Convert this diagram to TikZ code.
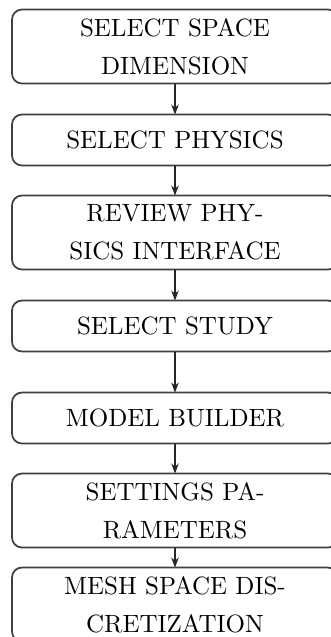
\documentclass[tikz,border=0pt]{standalone}
\usepackage{tikz}
\usetikzlibrary{positioning,arrows.meta}

\tikzset{
  block/.style={draw=black!75, line width=0.7pt, rounded corners=4pt,
    minimum width=130.4pt, minimum height=20.4pt, inner xsep=3.8pt, inner ysep=1pt,
    outer sep=0pt, align=center, font=\fontsize{10}{15.3}\selectfont},
  tallblock/.style={block, minimum height=29.6pt},
  flow/.style={-{Stealth[length=4pt,width=3pt]}, line width=0.45pt, black!85}
}

\begin{document}
\begin{tikzpicture}
			%%%%% START %%%%%
			
			\useasboundingbox (-70pt, 18.6pt) rectangle (62pt, -236.2pt);
			
			\node[tallblock] (space) at (0, 0) {SELECT SPACE\\DIMENSION};
			\node[block, below=12.4pt of space] (physics) {SELECT PHYSICS};
			\node[tallblock, below=12pt of physics] (review) {REVIEW PHY-\\SICS INTERFACE};
			\node[block, below=12.4pt of review] (study) {SELECT STUDY};
			\node[block, below=16.4pt of study] (builder) {MODEL BUILDER};
			\node[tallblock, below=12pt of builder] (settings) {SETTINGS PA-\\RAMETERS};
			\node[tallblock, below=8pt of settings] (mesh) {MESH SPACE DIS-\\CRETIZATION};
			
			\draw[flow] (space) -- (physics);
			\draw[flow] (physics) -- (review);
			\draw[flow] (review) -- (study);
			\draw[flow] (study) -- (builder);
			\draw[flow] (builder) -- (settings);
			\draw[flow] (settings) -- (mesh);
			
			%%%%% END %%%%%
\end{tikzpicture}
\end{document}
